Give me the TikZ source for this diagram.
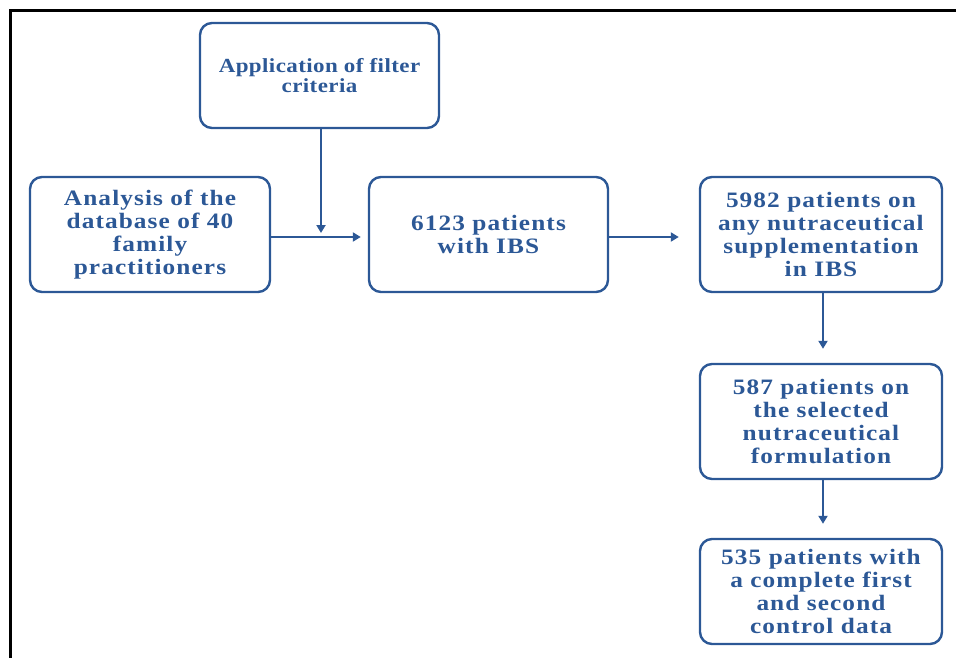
\documentclass[tikz,border=0pt]{standalone}
\usepackage{fontspec}
\setmainfont{Liberation Serif}[LetterSpace=5,FakeStretch=1.15]
\newfontfamily\filterfont{Liberation Serif}[LetterSpace=2,FakeStretch=1.15]
\usetikzlibrary{arrows.meta}
\definecolor{flowblue}{RGB}{44,88,150}
\begin{document}
\begin{tikzpicture}[x=1pt,y=1pt,
  box/.style={draw=flowblue, line width=2.4pt, rounded corners=12pt, align=center,
    text=flowblue, font=\bfseries\fontsize{22}{23}\selectfont, inner sep=1pt},
  conn/.style={draw=flowblue, line width=2.4pt, -{Triangle[length=8pt,width=9pt]}}]
\useasboundingbox (0,0) rectangle (956,-658);
\draw[line width=3pt, black] (10.5,-658) -- (10.5,-11) -- (956,-11);
\node[box, minimum width=239pt, minimum height=105pt, font=\filterfont\bfseries\fontsize{20}{20}\selectfont] (filter) at (319.5,-75.5) {Application of filter\\criteria};
\node[box, minimum width=240pt, minimum height=115pt] (anal) at (150,-234.5) {Analysis of the\\database of 40\\family\\practitioners};
\node[box, minimum width=239pt, minimum height=115pt] (ibs) at (488.5,-234.5) {6123 patients\\with IBS};
\node[box, minimum width=242pt, minimum height=115pt] (any) at (821,-234.5) {5982 patients on\\any nutraceutical\\supplementation\\in IBS};
\node[box, minimum width=242pt, minimum height=115pt] (sel) at (821,-421.5) {587 patients on\\the selected\\nutraceutical\\formulation};
\node[box, minimum width=242pt, minimum height=105pt] (comp) at (821,-591.5) {535 patients with\\a complete first\\and second\\control data};
\coordinate (join) at (321,-233);
\draw[conn] (filter.south -| join) -- (join);
\draw[conn, shorten >=7pt] (anal.east |- 0,-237) -- (ibs.west |- 0,-237);
\draw[conn, shorten >=20pt] (ibs.east |- 0,-237) -- (any.west |- 0,-237);
\draw[conn, shorten >=14pt] (any.south -| 823,0) -- (sel.north -| 823,0);
\draw[conn, shorten >=14pt] (sel.south -| 823,0) -- (comp.north -| 823,0);
\end{tikzpicture}
\end{document}
